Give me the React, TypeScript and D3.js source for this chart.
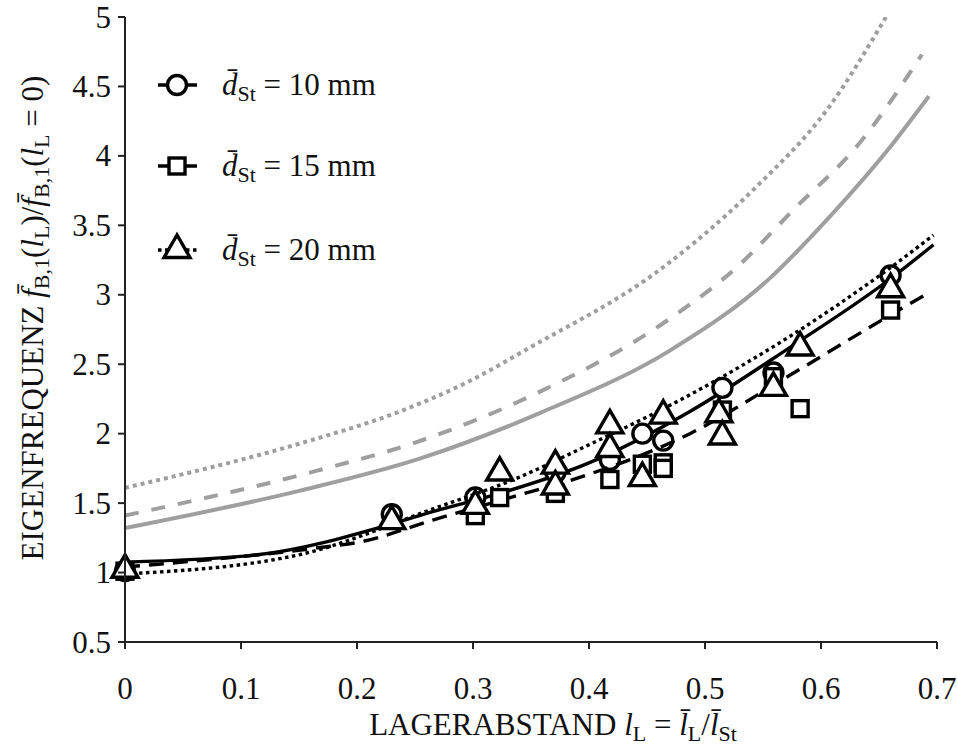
import React from "react";
import * as d3 from "d3";

// ---------- data ----------
const xTicks = [0, 0.1, 0.2, 0.3, 0.4, 0.5, 0.6, 0.7];
const yTicks = [0.5, 1, 1.5, 2, 2.5, 3, 3.5, 4, 4.5, 5];

// measurements, d = 10 mm (circles)
const circX = [0, 0.23, 0.302, 0.371, 0.418, 0.446, 0.464, 0.515, 0.559, 0.66];
const circY = [1.01, 1.42, 1.54, 1.72, 1.81, 2.0, 1.95, 2.33, 2.44, 3.14];
// d = 15 mm (squares)
const sqX = [0, 0.302, 0.323, 0.371, 0.418, 0.446, 0.464, 0.464, 0.515, 0.559, 0.582, 0.66];
const sqY = [1.01, 1.41, 1.54, 1.57, 1.67, 1.78, 1.79, 1.75, 2.17, 2.41, 2.18, 2.89];
// d = 20 mm (triangles)
const triX = [0, 0.23, 0.302, 0.323, 0.371, 0.371, 0.418, 0.418, 0.446, 0.464, 0.512, 0.515, 0.559, 0.582, 0.66];
const triY = [1.02, 1.37, 1.48, 1.72, 1.77, 1.62, 2.06, 1.89, 1.68, 2.13, 2.14, 1.98, 2.33, 2.62, 3.04];

// fitted curves (black)
const fit10X = [0, 0.116, 0.23, 0.266, 0.323, 0.4, 0.487, 0.573, 0.659, 0.697];
const fit10Y = [1.075, 1.13, 1.35, 1.44, 1.57, 1.79, 2.16, 2.62, 3.11, 3.36];
const fit15X = [0, 0.168, 0.2026, 0.266, 0.332, 0.39, 0.487, 0.573, 0.659, 0.69];
const fit15Y = [1.04, 1.18, 1.22, 1.38, 1.54, 1.68, 2.0, 2.42, 2.85, 3.0];
const fit20X = [0, 0.151, 0.266, 0.338, 0.395, 0.487, 0.573, 0.659, 0.697];
const fit20Y = [0.99, 1.13, 1.46, 1.68, 1.9, 2.28, 2.7, 3.19, 3.43];

// model curves (gray)
const mod10X = [0, 0.151, 0.254, 0.358, 0.47, 0.556, 0.605, 0.662, 0.693];
const mod10Y = [1.32, 1.59, 1.82, 2.15, 2.6, 3.12, 3.54, 4.09, 4.43];
const mod15X = [0, 0.164, 0.248, 0.352, 0.47, 0.5276, 0.576, 0.634, 0.687];
const mod15Y = [1.41, 1.73, 1.93, 2.28, 2.83, 3.2, 3.61, 4.1, 4.73];
const mod20X = [0, 0.151, 0.237, 0.295, 0.349, 0.461, 0.49, 0.547, 0.605, 0.656];
const mod20Y = [1.61, 1.93, 2.16, 2.37, 2.62, 3.18, 3.37, 3.8, 4.33, 5.0];

const legendLabels = ["10", "15", "20"];

// ---------- layout ----------
const W = 957;
const H = 749;
const X0 = 125, X1 = 937, Y0 = 642, Y1 = 17;
const FONT = "'Liberation Serif', 'Times New Roman', serif";
const GRAY = "#9f9f9f";

const x = d3.scaleLinear().domain([0, 0.7]).range([X0, X1]);
const y = d3.scaleLinear().domain([0.5, 5]).range([Y0, Y1]);

const zip = (a: number[], b: number[]) => a.map((v, i) => [v, b[i]] as [number, number]);
const line = d3
  .line<[number, number]>()
  .x((d) => x(d[0]))
  .y((d) => y(d[1]))
  .curve(d3.curveMonotoneX);

type Kind = "circle" | "square" | "triangle";

function Marker({ kind, cx, cy }: { kind: Kind; cx: number; cy: number }) {
  const common = { fill: "white", stroke: "black", strokeWidth: 3.4 };
  if (kind === "circle") return <circle cx={cx} cy={cy} r={9.5} {...common} />;
  if (kind === "square") return <rect x={cx - 8} y={cy - 8} width={16} height={16} {...common} />;
  const s = 26;
  const h = (s * Math.sqrt(3)) / 2;
  const pts = [
    [cx, cy - (2 * h) / 3],
    [cx - s / 2, cy + h / 3],
    [cx + s / 2, cy + h / 3],
  ];
  return <polygon points={pts.map((p) => p.join(",")).join(" ")} {...common} strokeLinejoin="miter" />;
}

const series = [
  { kind: "circle" as Kind, xs: circX, ys: circY, fx: fit10X, fy: fit10Y, dash: undefined as string | undefined },
  { kind: "square" as Kind, xs: sqX, ys: sqY, fx: fit15X, fy: fit15Y, dash: "15,9" },
  { kind: "triangle" as Kind, xs: triX, ys: triY, fx: fit20X, fy: fit20Y, dash: "3.5,3.5" },
];
const models = [
  { xs: mod10X, ys: mod10Y, dash: undefined as string | undefined },
  { xs: mod15X, ys: mod15Y, dash: "14,13" },
  { xs: mod20X, ys: mod20Y, dash: "4,4" },
];

const FS = 31;
const SUB = 22;
const SD = 6;

export default function App() {
  return (
    <svg
      width={W}
      height={H}
      style={{ position: "absolute", left: 0, top: 0, background: "white" }}
      fontFamily={FONT}
    >
      <defs>
        <clipPath id="plot">
          <rect x={X0} y={Y1} width={X1 - X0 + 5} height={Y0 - Y1} />
        </clipPath>
      </defs>

      {/* gray model curves */}
      <g clipPath="url(#plot)">
        {models.map((m, i) => (
          <path
            key={"m" + i}
            d={line(zip(m.xs, m.ys)) || ""}
            fill="none"
            stroke={GRAY}
            strokeWidth={4}
            strokeDasharray={m.dash}
          />
        ))}
      </g>

      {/* fits and markers */}
      {series.map((s, i) => (
        <g key={"s" + i}>
          <path
            d={line(zip(s.fx, s.fy)) || ""}
            fill="none"
            stroke="black"
            strokeWidth={3.4}
            strokeDasharray={s.dash}
          />
          {s.xs.map((xv, j) => (
            <Marker key={j} kind={s.kind} cx={x(xv)} cy={y(s.ys[j])} />
          ))}
        </g>
      ))}

      {/* axes */}
      <g stroke="#222" strokeWidth={2}>
        <line x1={X0} x2={X0} y1={Y1} y2={Y0 + 1} />
        <line x1={X0 - 1} x2={X1} y1={Y0} y2={Y0} />
        {yTicks.map((t) => (
          <line key={"yt" + t} x1={X0 - 7} x2={X0} y1={y(t)} y2={y(t)} />
        ))}
        {xTicks.map((t) => (
          <line key={"xt" + t} x1={x(t)} x2={x(t)} y1={Y0} y2={Y0 + 7} />
        ))}
      </g>
      <g fontSize={FS} fill="#111">
        {yTicks.map((t) => (
          <text key={"yl" + t} x={X0 - 14} y={y(t)} dy="0.34em" textAnchor="end">
            {String(t)}
          </text>
        ))}
        {xTicks.map((t) => (
          <text key={"xl" + t} x={x(t)} y={699} textAnchor="middle">
            {String(t)}
          </text>
        ))}
      </g>

      {/* x axis label */}
      <text x={553} y={735} fontSize={FS} textAnchor="middle" fill="#111">
        LAGERABSTAND{" "}
        <tspan fontStyle="italic">l</tspan>
        <tspan fontSize={SUB} dy={SD}>L</tspan>
        <tspan dy={-SD}> = </tspan>
        <tspan fontStyle="italic">l̄</tspan>
        <tspan fontSize={SUB} dy={SD}>L</tspan>
        <tspan dy={-SD}>/</tspan>
        <tspan fontStyle="italic">l̄</tspan>
        <tspan fontSize={SUB} dy={SD}>St</tspan>
      </text>

      {/* y axis label */}
      <text
        transform="translate(43,318) rotate(-90)"
        fontSize={FS}
        textAnchor="middle"
        fill="#111"
      >
        EIGENFREQUENZ{" "}
        <tspan fontStyle="italic">f̄</tspan>
        <tspan fontSize={SUB} dy={SD}>B,1</tspan>
        <tspan dy={-SD}>(</tspan>
        <tspan fontStyle="italic">l</tspan>
        <tspan fontSize={SUB} dy={SD}>L</tspan>
        <tspan dy={-SD}>)/</tspan>
        <tspan fontStyle="italic">f̄</tspan>
        <tspan fontSize={SUB} dy={SD}>B,1</tspan>
        <tspan dy={-SD}>(</tspan>
        <tspan fontStyle="italic">l</tspan>
        <tspan fontSize={SUB} dy={SD}>L</tspan>
        <tspan dy={-SD}> = 0)</tspan>
      </text>

      {/* legend */}
      {series.map((s, i) => {
        const ly = [85, 166, 250][i];
        return (
          <g key={"lg" + i}>
            <line x1={158} x2={197} y1={ly} y2={ly} stroke="black" strokeWidth={3.4} strokeDasharray={s.dash} />
            <Marker kind={s.kind} cx={177} cy={ly} />
            <text x={222} y={ly + 10} fontSize={FS} fill="#111">
              <tspan fontStyle="italic">d̄</tspan>
              <tspan fontSize={SUB} dy={SD}>St</tspan>
              <tspan dy={-SD}> = {legendLabels[i]} mm</tspan>
            </text>
          </g>
        );
      })}
    </svg>
  );
}
